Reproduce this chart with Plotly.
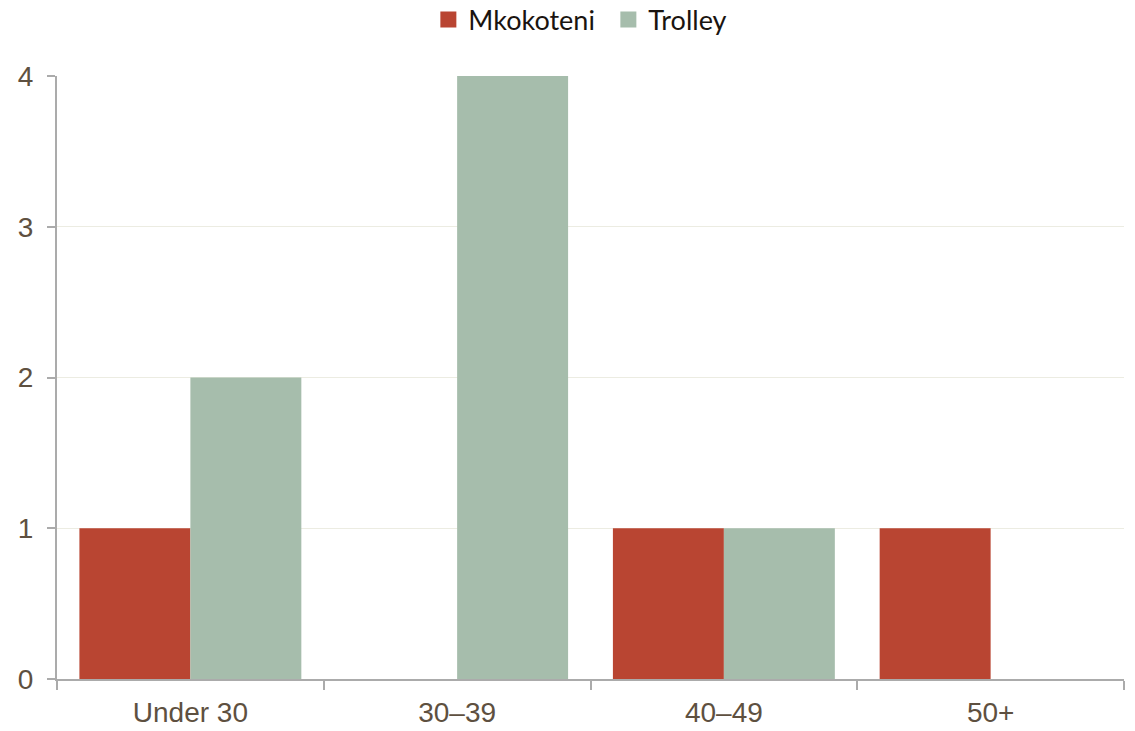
import plotly.graph_objects as go

categories = ["Under 30", "30–39", "40–49", "50+"]
mkokoteni = [1, 0, 1, 1]
trolley = [2, 4, 1, 0]
y_ticks = [0, 1, 2, 3, 4]
series_names = ["Mkokoteni", "Trolley"]
series_colors = ["#B94532", "#A6BDAC"]

fig = go.Figure()
for name, vals, col in zip(series_names, [mkokoteni, trolley], series_colors):
    fig.add_trace(go.Bar(name=name, x=categories, y=vals, showlegend=False,
                         marker=dict(color=col, line=dict(width=0))))
# legend entries with larger square swatches
for name, col in zip(series_names, series_colors):
    fig.add_trace(go.Scatter(name=name, x=[categories[0]], y=[None], mode="markers",
                             marker=dict(symbol="square", size=17, color=col),
                             showlegend=True, hoverinfo="skip"))

tick_font = dict(family="Liberation Sans", size=28, color="#5E5040")

fig.update_layout(
    width=1135, height=731,
    margin=dict(l=57, r=11, t=76, b=52, autoexpand=False),
    paper_bgcolor="white", plot_bgcolor="white",
    barmode="group", bargap=0.168, bargroupgap=0,
    showlegend=True,
    legend=dict(orientation="h", x=0.536, xanchor="center", xref="container",
                y=0.9726, yanchor="middle", yref="container",
                font=dict(family="Lato, Carlito, sans-serif", size=27, color="#1A1410"),
                itemwidth=30, traceorder="normal", entrywidth=135),
    xaxis=dict(type="category", showline=True, linecolor="#ABABAB", linewidth=2,
               ticks="outside", tickson="boundaries", ticklen=9, tickwidth=2,
               tickcolor="#ABABAB", showgrid=False, tickfont=tick_font,
               ticklabelstandoff=7, automargin=False),
    yaxis=dict(range=[0, 4], tickvals=y_ticks, showline=True, linecolor="#ABABAB",
               linewidth=2, ticks="outside", ticklen=8, tickwidth=2, tickcolor="#ABABAB",
               showgrid=True, gridcolor="#ECECE2", gridwidth=1, zeroline=False,
               tickfont=tick_font, ticklabelstandoff=8, automargin=False),
)
fig.write_html("out.html")
